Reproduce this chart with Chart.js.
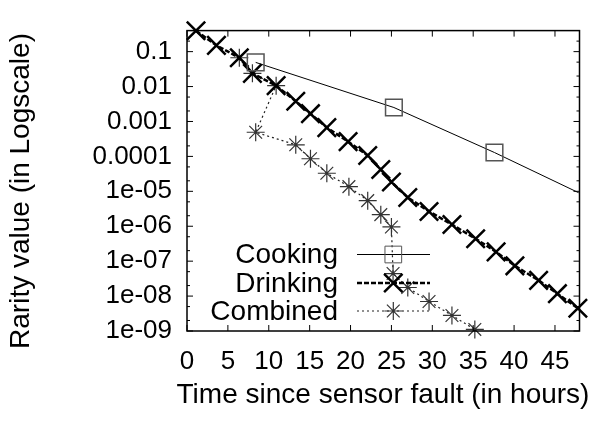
<!DOCTYPE html>
<html>
<head>
<meta charset="utf-8">
<script src="https://cdn.jsdelivr.net/npm/chart.js@4/dist/chart.umd.min.js"></script>
<style>
html, body { margin: 0; padding: 0; background: #fff; }
</style>
</head>
<body>
<canvas id="grafico" width="595" height="424"></canvas>
<script>
// valores (x em horas, y em escala log)
const cookingX = [8.4, 25.3, 37.6, 47.9];
const cookingY = [0.0491, 0.00251, 0.000129, 0.0000091];

const drinkingX = [1.1, 3.6, 6.4, 8.0, 10.9, 13.3, 15.1, 17.1, 19.7, 22.1, 23.7,
    25.0, 27.0, 29.6, 32.4, 35.3, 37.8, 40.1, 43.0, 45.3, 47.8];
const drinkingY = [0.395, 0.151, 0.0667, 0.0239, 0.0106, 0.00379, 0.00167, 6.67e-4,
    2.65e-4, 1.06e-4, 4.2e-5, 1.85e-5, 6.67e-6, 2.65e-6, 1.12e-6, 4.37e-7, 1.85e-7,
    7.36e-8, 2.82e-8, 1.17e-8, 4.48e-9];

const combinedX = [6.4, 8.0, 10.9, 8.4, 13.3, 15.1, 17.1, 19.8, 22.1, 23.7, 25.0,
    25.2, 27.0, 29.6, 32.4, 35.2];
const combinedY = [0.0667, 0.0239, 0.0106, 4.91e-4, 2.15e-4, 8.57e-5, 3.29e-5, 1.36e-5,
    5.41e-6, 2.15e-6, 9.53e-7, 4.42e-8, 1.76e-8, 7.0e-9, 2.79e-9, 1.11e-9];

const seriesNames = ['Cooking', 'Drinking', 'Combined'];
const xTicks = [0, 5, 10, 15, 20, 25, 30, 35, 40, 45];
const yTicks = [1e-9, 1e-8, 1e-7, 1e-6, 1e-5, 1e-4, 1e-3, 1e-2, 1e-1];
const yTickLabels = ['1e-09', '1e-08', '1e-07', '1e-06', '1e-05', '0.0001', '0.001', '0.01', '0.1'];
const xTitulo = 'Time since sensor fault (in hours)';
const yTitulo = 'Rarity value (in Logscale)';

const fonte = '"Liberation Sans", Arial, sans-serif';

function pontos(xs, ys) {
    return xs.map((x, i) => ({ x: x, y: ys[i] }));
}

// moldura e marcas de escala para dentro, como no gnuplot
const molduraPlugin = {
    id: 'moldura',
    afterDraw(chart) {
        const ctx = chart.ctx;
        const a = chart.chartArea;
        const sx = chart.scales.x;
        const sy = chart.scales.y;
        ctx.save();
        ctx.strokeStyle = '#000';
        ctx.lineWidth = 1;
        ctx.beginPath();
        xTicks.forEach(v => {
            const px = sx.getPixelForValue(v);
            ctx.moveTo(px, a.bottom); ctx.lineTo(px, a.bottom - 6);
            ctx.moveTo(px, a.top); ctx.lineTo(px, a.top + 6);
        });
        yTicks.forEach(v => {
            [1, 2, 5].forEach(m => {
                const val = v * m;
                if (val > sy.max) return;
                const py = sy.getPixelForValue(val);
                const len = m === 1 ? 6 : 3;
                ctx.moveTo(a.left, py); ctx.lineTo(a.left + len, py);
                ctx.moveTo(a.right, py); ctx.lineTo(a.right - len, py);
            });
        });
        ctx.stroke();
        ctx.lineWidth = 1.5;
        ctx.strokeRect(a.left, a.top, a.right - a.left, a.bottom - a.top);

        // títulos dos eixos (sem limite de largura)
        ctx.fillStyle = '#000';
        ctx.font = '28px ' + fonte;
        ctx.textAlign = 'center';
        ctx.textBaseline = 'middle';
        ctx.fillText(xTitulo, 383, 395);
        ctx.translate(21, 191);
        ctx.rotate(-Math.PI / 2);
        ctx.fillText(yTitulo, 0, 0);
        ctx.restore();
    }
};

// legenda dentro da área, texto à esquerda da amostra
const legendaPlugin = {
    id: 'legendaInterna',
    afterDraw(chart) {
        const ctx = chart.ctx;
        const linhas = [254.5, 283, 311];
        ctx.save();
        ctx.font = '28px ' + fonte;
        ctx.textAlign = 'right';
        ctx.textBaseline = 'middle';
        chart.data.datasets.forEach((ds, i) => {
            const y = linhas[i];
            ctx.fillStyle = '#000';
            ctx.fillText(ds.label, 338, y + 1);
            ctx.strokeStyle = ds.borderColor;
            ctx.lineWidth = ds.borderWidth;
            ctx.setLineDash(ds.borderDash || []);
            ctx.beginPath();
            ctx.moveTo(357, y); ctx.lineTo(430, y);
            ctx.stroke();
            ctx.setLineDash([]);
            ctx.strokeStyle = ds.pointBorderColor;
            ctx.fillStyle = 'rgba(0,0,0,0)';
            Chart.helpers.drawPoint(ctx, {
                pointStyle: ds.pointStyle,
                radius: ds.legendRadius,
                borderWidth: ds.pointBorderWidth,
                rotation: 0
            }, 393.3, y);
        });
        ctx.restore();
    }
};

function criarGrafico() {
    const ctx = document.getElementById('grafico').getContext('2d');
    new Chart(ctx, {
        type: 'line',
        data: {
            datasets: [{
                label: seriesNames[0],
                data: pontos(cookingX, cookingY),
                borderColor: '#000',
                borderWidth: 1,
                pointStyle: 'rect',
                pointRadius: [11.8, 11.8, 11.8, 0],
                legendRadius: 11.8,
                pointBorderColor: '#555',
                pointBackgroundColor: 'rgba(0,0,0,0)',
                pointBorderWidth: 1.5,
                clip: false
            }, {
                label: seriesNames[1],
                data: pontos(drinkingX, drinkingY),
                borderColor: '#000',
                borderWidth: 2.5,
                borderDash: [5, 2],
                pointStyle: 'crossRot',
                pointRadius: 13,
                legendRadius: 13,
                pointBorderColor: '#000',
                pointBorderWidth: 2.5,
                clip: false
            }, {
                label: seriesNames[2],
                data: pontos(combinedX, combinedY),
                borderColor: '#222',
                borderWidth: 1.2,
                borderDash: [2, 3],
                pointStyle: 'star',
                pointRadius: 9,
                legendRadius: 9,
                pointBorderColor: '#333',
                pointBorderWidth: 1.2,
                clip: false
            }]
        },
        options: {
            responsive: false,
            animation: false,
            devicePixelRatio: 1,
            layout: { padding: { top: 10, right: 11, left: 0, bottom: 0 } },
            plugins: {
                legend: { display: false },
                tooltip: { enabled: false }
            },
            scales: {
                x: {
                    type: 'linear',
                    min: 0,
                    max: 48,
                    afterFit: scale => { scale.height = 93; },
                    afterBuildTicks: scale => { scale.ticks = xTicks.map(v => ({ value: v })); },
                    grid: { display: false, drawTicks: false },
                    border: { display: false },
                    ticks: {
                        color: '#000',
                        padding: 15,
                        maxRotation: 0,
                        autoSkip: false,
                        font: { family: fonte, size: 26 }
                    },
                    title: { display: false }
                },
                y: {
                    type: 'logarithmic',
                    min: 1e-9,
                    max: 0.4,
                    afterFit: scale => { scale.width = 187; },
                    afterBuildTicks: scale => { scale.ticks = yTicks.map(v => ({ value: v })); },
                    grid: { display: false, drawTicks: false },
                    border: { display: false },
                    ticks: {
                        color: '#000',
                        padding: 15,
                        autoSkip: false,
                        callback: value => yTickLabels[yTicks.indexOf(value)],
                        font: { family: fonte, size: 26 }
                    },
                    title: { display: false }
                }
            }
        },
        plugins: [molduraPlugin, legendaPlugin]
    });
}

criarGrafico();
</script>
</body>
</html>
